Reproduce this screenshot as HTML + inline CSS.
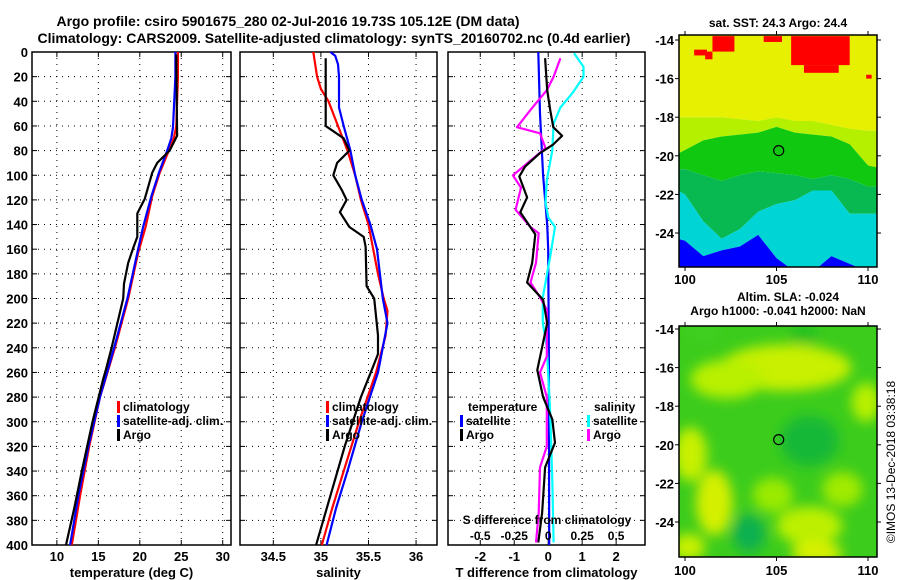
<!DOCTYPE html>
<html><head><meta charset="utf-8">
<style>
html,body{margin:0;padding:0;background:#fff;}
svg{display:block;font-family:"Liberation Sans",sans-serif;font-weight:bold;}
text{fill:#000;}
</style></head>
<body>
<svg id="fig" width="900" height="580" viewBox="0 0 900 580" xmlns="http://www.w3.org/2000/svg">
<defs>
<filter id="blur" x="-20%" y="-20%" width="140%" height="140%"><feGaussianBlur stdDeviation="6"/></filter>
<clipPath id="clipTop"><rect x="679" y="35" width="198" height="232"/></clipPath>
<clipPath id="clipBot"><rect x="679" y="326" width="198" height="231"/></clipPath>
</defs>
<text x="288" y="26" font-size="14" text-anchor="middle">Argo profile: csiro 5901675_280 02-Jul-2016 19.73S 105.12E (DM data)</text>
<text x="334" y="43" font-size="14" text-anchor="middle">Climatology: CARS2009. Satellite-adjusted climatology: synTS_20160702.nc (0.4d earlier)</text>
<g id="plots"></g>
<text font-size="12" font-weight="normal" transform="translate(895,462) rotate(-90)" text-anchor="middle">©IMOS 13-Dec-2018 03:38:18</text>
</svg>
<script>
// ---------- data ----------
const depthTicks = [0,20,40,60,80,100,120,140,160,180,200,220,240,260,280,300,320,340,360,380,400];
const tempTicks = [10,15,20,25,30];
const salTicks = [34.5,35,35.5,36];
const tdiffTicks = [-2,-1,0,1,2];
const sdiffTicks = [-0.5,-0.25,0,0.25,0.5];
const sdiffTickLabels = ["-0.5","-0.25","0","0.25","0.5"];

const tClimDepth = [0,20,60,70,80,98,117,142,163,200,240,280,320,360,400];
const tClimVal   = [24.6,24.6,24.4,24.1,23.5,22.4,21.5,20.7,19.8,18.6,17.0,15.2,13.9,12.8,11.8];
const tSatDepth  = [0,20,61,70,80,98,117,142,163,200,240,280,320,360,400];
const tSatVal    = [24.3,24.3,24.0,23.8,23.3,22.3,21.4,20.4,19.7,18.5,16.9,15.2,13.8,12.6,11.6];
const tArgoDepth = [2,68,80,90,98,112,119,127,131,150,159,171,188,200,240,258,265,300,340,370,400];
const tArgoVal   = [24.4,24.5,23.6,22.1,21.5,20.9,20.6,20.0,19.7,19.7,19.2,18.6,18.1,18.0,16.6,15.9,15.6,14.3,13.0,12.1,11.1];

const sClimDepth = [0,20,30,40,60,80,100,120,140,160,180,200,210,230,260,300,340,370,400];
const sClimVal   = [34.92,34.96,35.0,35.08,35.18,35.28,35.36,35.42,35.5,35.55,35.6,35.66,35.7,35.68,35.58,35.4,35.24,35.12,35.01];
const sSatDepth  = [0,3,10,20,45,60,80,100,120,140,160,180,200,220,260,300,340,370,400];
const sSatVal    = [35.1,35.15,35.18,35.19,35.19,35.24,35.31,35.36,35.43,35.52,35.59,35.62,35.65,35.7,35.6,35.43,35.28,35.16,35.06];
const sArgoDepth = [5,60,70,80,90,100,112,120,130,142,150,158,190,200,230,245,255,280,320,360,400];
const sArgoVal   = [35.05,35.05,35.24,35.3,35.17,35.13,35.22,35.27,35.2,35.3,35.45,35.47,35.48,35.56,35.6,35.6,35.55,35.42,35.25,35.1,34.95];

const dTSatDepth = [0,50,100,140,160,250,400];
const dTSatVal   = [-0.29,-0.24,-0.15,-0.03,0.0,0.02,0.03];
const dTArgoDepth = [5,31,47,61,68,75,82,93,101,118,130,148,171,187,201,220,258,280,298,317,337,374,398];
const dTArgoVal   = [-0.09,-0.03,0.06,0.15,0.41,0.15,-0.24,-0.68,-0.85,-0.62,-0.82,-0.38,-0.47,-0.62,-0.15,-0.03,-0.32,-0.15,0.12,0.2,-0.09,-0.18,-0.29];
const dSSatDepth = [1,12,20,33,45,58,80,104,122,134,142,166,199,220,239,293,347,398];
const dSSatVal   = [0.19,0.26,0.26,0.18,0.09,0.04,0.03,-0.01,-0.02,0,0.05,0.015,-0.04,-0.04,-0.01,0.015,0.03,0.04];
const dSArgoDepth = [5,20,31,47,61,66,78,90,100,110,128,142,147,171,187,199,209,247,260,280,320,337,374,398];
const dSArgoVal   = [0.09,0.04,-0.01,-0.13,-0.23,-0.06,-0.02,-0.15,-0.26,-0.2,-0.24,-0.13,-0.07,-0.09,-0.13,-0.06,-0.01,-0.01,-0.06,-0.01,-0.01,-0.06,-0.07,-0.09];

// SST map zone boundaries (latitude per longitude)
const mapLons = [99.6,100,101,102,103,104,105,106,107,108,109,110,110.5];
const yellowBottom = [-18.0,-18.0,-18.0,-18.0,-18.1,-18.2,-18.0,-18.2,-18.2,-18.4,-18.6,-18.7,-18.7];
const limeBottom   = [-19.9,-19.7,-19.2,-19.0,-18.9,-18.8,-18.5,-18.8,-18.9,-19.0,-19.4,-20.5,-20.6];
const greenBottom  = [-20.7,-20.7,-21.0,-21.3,-21.0,-20.8,-20.9,-21.0,-21.2,-21.0,-21.2,-21.6,-21.6];
const darkBottom   = [-21.8,-22.0,-23.4,-24.3,-23.8,-22.9,-22.5,-22.3,-21.8,-21.8,-23.0,-23.0,-23.0];
const blueTop      = [-24.3,-24.4,-25.2,-24.9,-24.7,-24.1,-25.3,-26.0,-26.0,-25.2,-25.6,-26.0,-26.0];
// red patches [lon0, lon1, lat0, lat1]
const redPatches = [[101.5,102.7,-13.8,-14.6],[100.5,101.2,-14.5,-14.8],[101.1,101.5,-14.6,-15.0],[105.8,109.0,-13.8,-15.3],[106.5,108.4,-15.3,-15.7],[104.3,105.3,-13.8,-14.1],[109.9,110.2,-15.8,-16.0]];
// SLA map anomaly patches [lon, lat, rx(deg), ry(deg), color]
const slaPatches = [[105.5,-16.0,3.6,1.2,"#c8f000"],[102.3,-16.6,2.0,1.0,"#b8f000"],[100.3,-20.5,0.9,1.4,"#c8f000"],[101.6,-23.0,1.0,1.7,"#d4f000"],[106.8,-24.2,1.8,1.0,"#bcf000"],[107.2,-25.6,1.4,0.6,"#d8f000"],[109.9,-17.8,0.8,1.0,"#b8f000"],[100.2,-25.3,0.9,0.7,"#c8f000"],[104.8,-22.6,1.1,0.9,"#9aea00"],[108.6,-22.3,1.1,0.9,"#a0ea00"],[103.5,-24.6,0.9,1.0,"#10b050"],[106.8,-19.8,1.6,1.3,"#18b838"],[106.5,-14.3,0.8,0.5,"#20c020"],[101,-14.2,0.9,0.4,"#40d020"]];
const mapLonTicks = [100,105,110];
const mapLatTicks = [-14,-16,-18,-20,-22,-24];

// ---------- helpers ----------
const NS = "http://www.w3.org/2000/svg";
const root = document.getElementById("plots");
function el(tag, attrs, parent){ const e=document.createElementNS(NS,tag); for(const k in attrs) e.setAttribute(k,attrs[k]); (parent||root).appendChild(e); return e; }
const Y0=52, Y1=545;
const yD = d => Y0 + d*(Y1-Y0)/400;

function panel(name, x0, x1, vmin, vmax, ticks, tickLabels, xTitle){
  const g = el("g",{});
  
  
  const sx = v => x0 + (v-vmin)*(x1-x0)/(vmax-vmin);
  ticks.forEach(t=>{ const gl=el("line",{x1:sx(t),x2:sx(t),y1:Y0,y2:Y1,stroke:"#000","stroke-width":1,"stroke-dasharray":"1,5"},g);
      });
  depthTicks.forEach(d=>{ if(d===0||d===400) return; const gl=el("line",{x1:x0,x2:x1,y1:yD(d),y2:yD(d),stroke:"#000","stroke-width":1,"stroke-dasharray":"1,5"},g);
     
    el("line",{x1:x0,x2:x0+5,y1:yD(d),y2:yD(d),stroke:"#000"},g); el("line",{x1:x1-5,x2:x1,y1:yD(d),y2:yD(d),stroke:"#000"},g); });
  ticks.forEach(t=>{ el("line",{x1:sx(t),x2:sx(t),y1:Y1-5,y2:Y1,stroke:"#000"},g); el("line",{x1:sx(t),x2:sx(t),y1:Y0,y2:Y0+5,stroke:"#000"},g); });
  const fr = el("rect",{x:x0,y:Y0,width:x1-x0,height:Y1-Y0,fill:"none",stroke:"#000","stroke-width":1.5},g);
   
  if(tickLabels){ ticks.forEach((t,i)=>{ const tl=el("text",{x:sx(t),y:561,"font-size":13,"text-anchor":"middle"},g); tl.textContent=tickLabels[i];
      }); }
  const xt = el("text",{x:(x0+x1)/2,y:577,"font-size":13,"text-anchor":"middle"},g); xt.textContent=xTitle;
   
  return {g,sx};
}
function line(p, depths, vals, color, name, sx){
  const pts = depths.map((d,i)=> sx(vals[i]).toFixed(1)+","+yD(d).toFixed(1)).join(" ");
  const l = el("polyline",{points:pts,fill:"none",stroke:color,"stroke-width":2.2,"stroke-linejoin":"round"},p.g);
  
  
}
function legend(g, x, y, color, label, name){
  const b = el("rect",{x:x,y:y-10,width:3,height:12,fill:color},g);
  const t = el("text",{x:x+6,y:y,"font-size":12},g); t.textContent=label;
  
  
}

depthTicks.forEach(d=>{ const t=el("text",{x:28,y:yD(d)+5,"font-size":13,"text-anchor":"end"}); t.textContent=d;
    });

const p1 = panel("temperature-panel",32,231,7,31,tempTicks,tempTicks.map(String),"temperature (deg C)");
line(p1,tClimDepth,tClimVal,"#ff0000","temp-climatology-line",p1.sx);
line(p1,tSatDepth,tSatVal,"#0000ff","temp-satellite-line",p1.sx);
line(p1,tArgoDepth,tArgoVal,"#000000","temp-argo-line",p1.sx);
legend(p1.g,117,411,"#ff0000","climatology","legend-climatology");
legend(p1.g,117,425,"#0000ff","satellite-adj. clim.","legend-satellite-adj");
legend(p1.g,117,439,"#000000","Argo","legend-argo");

const p2 = panel("salinity-panel",240,437,34.15,36.22,salTicks,salTicks.map(String),"salinity");
line(p2,sClimDepth,sClimVal,"#ff0000","sal-climatology-line",p2.sx);
line(p2,sSatDepth,sSatVal,"#0000ff","sal-satellite-line",p2.sx);
line(p2,sArgoDepth,sArgoVal,"#000000","sal-argo-line",p2.sx);
legend(p2.g,326,411,"#ff0000","climatology","legend-climatology");
legend(p2.g,326,425,"#0000ff","satellite-adj. clim.","legend-satellite-adj");
legend(p2.g,326,439,"#000000","Argo","legend-argo");

const p3 = panel("difference-panel",448,645,-2.95,2.85,tdiffTicks,tdiffTicks.map(String),"T difference from climatology");
const sxS = v => p3.sx(v*4);
line(p3,dTSatDepth,dTSatVal,"#0000ff","tdiff-satellite-line",p3.sx);
line(p3,dSSatDepth,dSSatVal,"#00ffff","sdiff-satellite-line",sxS);
line(p3,dSArgoDepth,dSArgoVal,"#ff00ff","sdiff-argo-line",sxS);
line(p3,dTArgoDepth,dTArgoVal,"#000000","tdiff-argo-line",p3.sx);
const lt = el("text",{x:468,y:411,"font-size":12},p3.g); lt.textContent="temperature";
 
legend(p3.g,460,425,"#0000ff","satellite","legend-t-satellite");
legend(p3.g,460,439,"#000000","Argo","legend-t-argo");
const ls = el("text",{x:594,y:411,"font-size":12},p3.g); ls.textContent="salinity";
 
legend(p3.g,587,425,"#00ffff","satellite","legend-s-satellite");
legend(p3.g,587,439,"#ff00ff","Argo","legend-s-argo");
const st = el("text",{x:547,y:524,"font-size":12,"text-anchor":"middle"},p3.g); st.textContent="S difference from climatology";
 
sdiffTicks.forEach((s,i)=>{ const t=el("text",{x:sxS(s),y:540,"font-size":12,"text-anchor":"middle"},p3.g); t.textContent=sdiffTickLabels[i];
    });

// ---------- maps ----------
function mapAxes(name, fx0, fy0, fx1, fy1, lonA, latA){
  const g = el("g",{});
  
  
  const mx = lon => 685 + (lon-100)*18.3;
  const my = lat => latA + (-14-lat)*19.3;
  return {g,mx,my,fx0,fy0,fx1,fy1};
}
function mapFrame(m, labelY){
  const {g,mx,my,fx0,fy0,fx1,fy1}=m;
  const fr=el("rect",{x:fx0,y:fy0,width:fx1-fx0,height:fy1-fy0,fill:"none",stroke:"#000","stroke-width":1.5},g);
   
  mapLonTicks.forEach(l=>{ el("line",{x1:mx(l),x2:mx(l),y1:fy1,y2:fy1+4,stroke:"#000"},g); el("line",{x1:mx(l),x2:mx(l),y1:fy0-4,y2:fy0,stroke:"#000"},g);
    const t=el("text",{x:mx(l),y:labelY,"font-size":13,"text-anchor":"middle"},g); t.textContent=l;
      });
  mapLatTicks.forEach(l=>{ el("line",{x1:fx0-4,x2:fx0,y1:my(l),y2:my(l),stroke:"#000"},g); el("line",{x1:fx1,x2:fx1+4,y1:my(l),y2:my(l),stroke:"#000"},g);
    const t=el("text",{x:fx0-5,y:my(l)+5,"font-size":13,"text-anchor":"end"},g); t.textContent=l;
      });
  const c=el("circle",{cx:mx(105.12),cy:my(-19.73),r:5,fill:"none",stroke:"#000","stroke-width":1.2},g);
   
}
const mt = mapAxes("sst-map",679,35,877,267,0,40);
const zt = el("g",{"clip-path":"url(#clipTop)"},mt.g);
function zone(bTop, bBot, color, name){
  const top = mapLons.map((l,i)=> mt.mx(l)+","+(bTop?mt.my(bTop[i]):0));
  const bot = mapLons.map((l,i)=> mt.mx(l)+","+(bBot?mt.my(bBot[i]):300)).reverse();
  const p = el("polygon",{points:top.concat(bot).join(" "),fill:color},zt);
  
  
}
zone(null,yellowBottom,"#e6f000","sst-yellow-zone");
zone(yellowBottom,limeBottom,"#b4f000","sst-lime-zone");
zone(limeBottom,greenBottom,"#10c810","sst-green-zone");
zone(greenBottom,darkBottom,"#08b850","sst-darkgreen-zone");
zone(darkBottom,blueTop,"#00d4d4","sst-cyan-zone");
zone(blueTop,null,"#0000ff","sst-blue-zone");
redPatches.forEach(r=>{ const p=el("rect",{x:mt.mx(r[0]),y:mt.my(r[2]),width:mt.mx(r[1])-mt.mx(r[0]),height:mt.my(r[3])-mt.my(r[2]),fill:"#ff0000"},zt);
    });
mapFrame(mt,284);
const tt=el("text",{x:778,y:27,"font-size":12,"text-anchor":"middle"},mt.g); tt.textContent="sat. SST: 24.3 Argo: 24.4";
 

const mb = mapAxes("sla-map",679,326,877,557,0,329);
const zb = el("g",{"clip-path":"url(#clipBot)"},mb.g);
const bg=el("rect",{x:679,y:326,width:198,height:231,fill:"#3ccc1c"},zb);
 
const zbb = el("g",{filter:"url(#blur)"},zb);
slaPatches.forEach(s=>{ const e=el("ellipse",{cx:mb.mx(s[0]),cy:mb.my(s[1]),rx:s[2]*18.3,ry:s[3]*19.3,fill:s[4]},zbb);
    });
mapFrame(mb,575);
const b1=el("text",{x:788,y:301,"font-size":12,"text-anchor":"middle"},mb.g); b1.textContent="Altim. SLA: -0.024";
 
const b2=el("text",{x:778,y:315,"font-size":12,"text-anchor":"middle"},mb.g); b2.textContent="Argo h1000: -0.041 h2000: NaN";
 
</script>
</body></html>
